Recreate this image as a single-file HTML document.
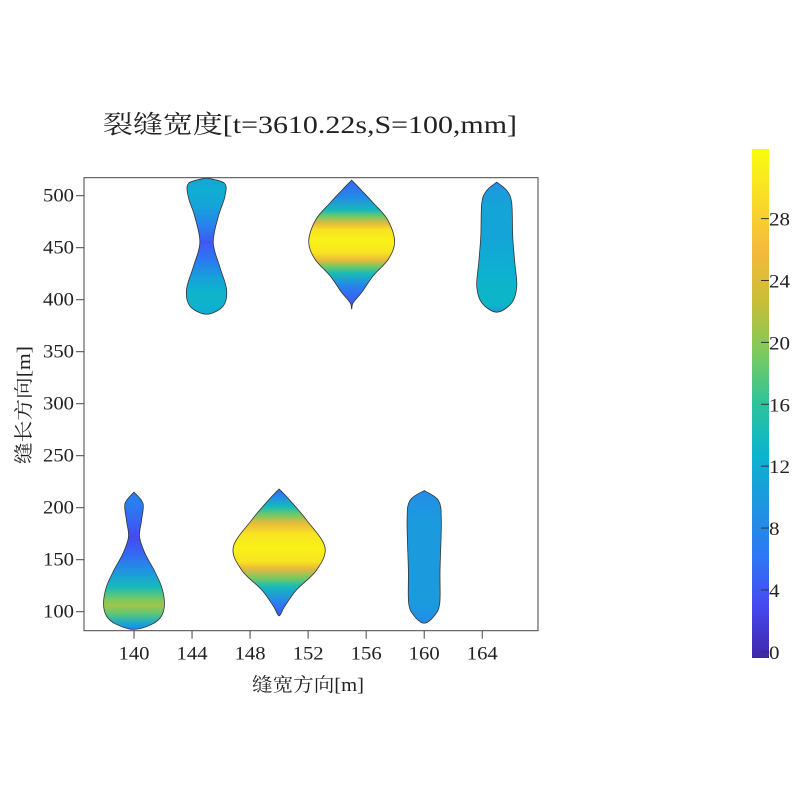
<!DOCTYPE html>
<html><head><meta charset="utf-8">
<style>
html,body{margin:0;padding:0;background:#fff;}
svg{display:block;}
text{font-family:"Liberation Serif","Noto Serif CJK SC",serif;fill:#222;}
</style></head>
<body>
<svg id="chart" width="800" height="800" viewBox="0 0 800 800">
<defs id="defs"></defs>
<text x="103" y="133" font-size="25" textLength="414" lengthAdjust="spacingAndGlyphs">裂缝宽度[t=3610.22s,S=100,mm]</text>
<g id="plot"></g>
<g id="axes"></g>
<text x="252" y="691" font-size="19" textLength="112" lengthAdjust="spacingAndGlyphs">缝宽方向[m]</text>
<text transform="translate(30,464) rotate(-90)" font-size="19" textLength="118" lengthAdjust="spacingAndGlyphs">缝长方向[m]</text>
<g id="cbar"></g>
</svg>
<script>
// ---- data ----
const xTicks = [140,144,148,152,156,160,164];
const yTicks = [100,150,200,250,300,350,400,450,500];
const cbTicks = [0,4,8,12,16,20,24,28];
const crackX = [140,145,155,165,150,160];
// shape profiles (y, half-width in x units)
const crack1Y = [215,204,188,172,156,140,124,108,96,88,83];
const crack1HW = [0,0.62,0.52,0.38,0.76,1.38,1.9,2.1,1.9,1.24,0];
const crack2Y = [517,512,499,480,455,432,410,394,386];
const crack2HW = [0,1.23,1.26,0.81,0.46,0.9,1.38,1.15,0];
const crack3Y = [515,505,493,477,456,439,423,407,397,391];
const crack3HW = [0,0.69,1.49,2.47,2.96,2.53,1.49,0.69,0.1,0];
const crack4Y = [513,505,493,461,436,413,397,388];
const crack4HW = [0,0.69,1.03,1.1,1.24,1.38,1.03,0];
const crack5Y = [218,207,188,162,140,121,105,96];
const crack5HW = [0,0.75,1.9,3.16,2.58,1.2,0.38,0];
const crack6Y = [216.5,207,188,140,108,96,89];
const crack6HW = [0,0.98,1.18,1.09,1.07,0.69,0];
// width values (mm) along each crack
const crack1CY = [215,204,188,172,156,140,124,112,106,98,88,83];
const crack1V = [7,7,5,3,5,9,14,19,21,18,11,7];
const crack2CY = [517,505,490,470,455,440,420,405,386];
const crack2V = [11,12,11,7,4,6,11,13,12];
const crack3CY = [515,499,486,480,473,467,456,445,438,432,425,412,390];
const crack3V = [5,8,14,19,25,30,31.5,30,25,19,14,7,3];
const crack4CY = [513,505,490,460,435,410,395,388];
const crack4V = [8,10,11,11,12,13,13,10];
const crack5CY = [218.6,211,201,193,185,175,162,148,141.6,132,124,108,95];
const crack5V = [5,8,14,19,25,30,31.5,30,25,19,14,7,4];
const crack6CY = [216.5,207,188,140,108,96,89];
const crack6V = [8,9,10,10,10,9,8];
const cracksY = [crack1Y,crack2Y,crack3Y,crack4Y,crack5Y,crack6Y];
const cracksHW = [crack1HW,crack2HW,crack3HW,crack4HW,crack5HW,crack6HW];
const cracksCY = [crack1CY,crack2CY,crack3CY,crack4CY,crack5CY,crack6CY];
const cracksV = [crack1V,crack2V,crack3V,crack4V,crack5V,crack6V];

// ---- scales ----
const L=84,R=538,T=177.7,B=630.7;
const sx = v => 134 + (v-140)*14.51;
const sy = v => 611.7 - (v-100)*1.04;
const vmin=-0.4, vmax=32.5;
const cbTop=149, cbBot=658;
const cy = v => cbBot - (v-vmin)/(vmax-vmin)*(cbBot-cbTop);
const parula=[[0,[62,38,168]],[0.1,[70,72,240]],[0.2,[45,120,245]],[0.3,[30,150,225]],[0.4,[10,180,205]],[0.5,[45,195,155]],[0.6,[125,202,92]],[0.7,[200,190,55]],[0.8,[245,185,60]],[0.9,[248,220,40]],[1,[249,251,14]]];
function cmap(v){let t=Math.max(0,Math.min(1,(v-vmin)/(vmax-vmin)));
 for(let i=1;i<parula.length;i++){if(t<=parula[i][0]){const a=parula[i-1],b=parula[i];const f=(t-a[0])/(b[0]-a[0]);
 return 'rgb('+a[1].map((c,k)=>Math.round(c+(b[1][k]-c)*f)).join(',')+')';}}return 'rgb(249,251,14)';}
const NS='http://www.w3.org/2000/svg';
function mk(tag,attrs,parent){const e=document.createElementNS(NS,tag);for(const k in attrs)e.setAttribute(k,attrs[k]);parent.appendChild(e);return e;}
function smooth(pts){let d='M'+pts[0][0]+','+pts[0][1];
 for(let i=0;i<pts.length-1;i++){const p0=pts[Math.max(0,i-1)],p1=pts[i],p2=pts[i+1],p3=pts[Math.min(pts.length-1,i+2)];
 d+=' C'+(p1[0]+(p2[0]-p0[0])/6)+','+(p1[1]+(p2[1]-p0[1])/6)+' '+(p2[0]-(p3[0]-p1[0])/6)+','+(p2[1]-(p3[1]-p1[1])/6)+' '+p2[0]+','+p2[1];}
 return d+'Z';}
const defs=document.getElementById('defs'),plot=document.getElementById('plot'),axes=document.getElementById('axes'),cbar=document.getElementById('cbar');

crackX.forEach((cx,i)=>{
 const ys=cracksY[i],hw=cracksHW[i],cys=cracksCY[i],vs=cracksV[i];
 const y0=sy(cys[0]),y1=sy(cys[cys.length-1]);
 const g=mk('linearGradient',{id:'g'+i,gradientUnits:'userSpaceOnUse',x1:0,x2:0,y1:y0,y2:y1},defs);
 cys.forEach((y,j)=>mk('stop',{offset:((sy(y)-y0)/(y1-y0)).toFixed(4),'stop-color':cmap(vs[j])},g));
 const right=ys.map((y,j)=>[sx(cx+hw[j]),sy(y)]);
 const left=ys.slice(1,-1).map((y,j)=>[sx(cx-hw[j+1]),sy(y)]).reverse();
 const p=mk('path',{d:smooth(right.concat(left).concat([right[0]])),fill:'url(#g'+i+')',stroke:'#333','stroke-width':0.8},plot);
 
 
});

const fr=mk('rect',{x:L,y:T,width:R-L,height:B-T,fill:'none',stroke:'#444','stroke-width':1},axes);


xTicks.forEach(v=>{
 mk('line',{x1:sx(v),x2:sx(v),y1:B,y2:B+8,stroke:'#444'},axes);
 const t=mk('text',{x:sx(v),y:B+29,'font-size':19,'text-anchor':'middle',textLength:31,lengthAdjust:'spacingAndGlyphs'},axes);t.textContent=v;
 
 
});
yTicks.forEach(v=>{
 mk('line',{x1:L-8,x2:L,y1:sy(v),y2:sy(v),stroke:'#444'},axes);
 const t=mk('text',{x:L-10,y:sy(v)+6,'font-size':19,'text-anchor':'end',textLength:31,lengthAdjust:'spacingAndGlyphs'},axes);t.textContent=v;
 
 
});

const cg=mk('linearGradient',{id:'cbg',x1:0,x2:0,y1:1,y2:0},defs);
for(let k=0;k<=20;k++){mk('stop',{offset:k/20,'stop-color':cmap(vmin+(vmax-vmin)*k/20)},cg);}
const cr=mk('rect',{x:752,y:cbTop,width:17,height:cbBot-cbTop,fill:'url(#cbg)'},cbar);


cbTicks.forEach(v=>{
 mk('line',{x1:761,x2:769,y1:cy(v),y2:cy(v),stroke:'#333'},cbar);
 const s=String(v);
 const t=mk('text',{x:769,y:cy(v)+7,'font-size':19,textLength:s.length*10.5,lengthAdjust:'spacingAndGlyphs'},cbar);t.textContent=s;
 
 
});
</script>
</body></html>
